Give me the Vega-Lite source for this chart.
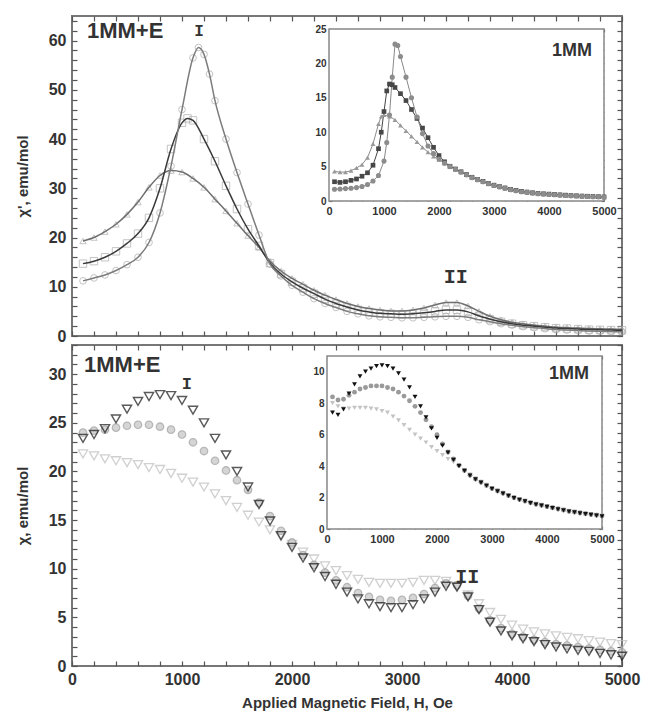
{
"$schema": "https://vega.github.io/schema/vega-lite/v6.json",
"padding": {"left": 14, "top": 11, "right": 5, "bottom": 5},
"background": "white",
"spacing": 9,
"bounds": "flush",
"config": {
  "view": {"stroke": "#777", "strokeWidth": 2},
  "axis": {"grid": false, "domain": false, "zindex": 1, "tickColor": "#555", "tickWidth": 1.2, "labelFont": "Liberation Sans", "labelFontWeight": "bold", "labelColor": "#333", "titleFont": "Liberation Sans", "titleFontWeight": "bold", "titleColor": "#333", "labelFlush": false, "labelOverlap": false, "labelBound": false}
},
"datasets": {
"tmc": [{"H":100,"v":11.2},{"H":200,"v":11.8},{"H":300,"v":12.4},{"H":400,"v":13.3},{"H":500,"v":14.5},{"H":600,"v":16.0},{"H":700,"v":19.0},{"H":800,"v":25.0},{"H":900,"v":34.5},{"H":1000,"v":46.0},{"H":1100,"v":56.5},{"H":1150,"v":58.6},{"H":1200,"v":57.2},{"H":1250,"v":53.2},{"H":1300,"v":47.8},{"H":1400,"v":40.0},{"H":1500,"v":33.2},{"H":1600,"v":26.8},{"H":1700,"v":20.5},{"H":1800,"v":14.6},{"H":1900,"v":12.2},{"H":2000,"v":10.3},{"H":2100,"v":8.9},{"H":2200,"v":7.6},{"H":2300,"v":6.6},{"H":2400,"v":5.8},{"H":2500,"v":5.0},{"H":2600,"v":4.5},{"H":2700,"v":4.1},{"H":2800,"v":3.9},{"H":2900,"v":3.8},{"H":3000,"v":3.7},{"H":3100,"v":3.7},{"H":3200,"v":3.8},{"H":3300,"v":3.9},{"H":3400,"v":4.0},{"H":3500,"v":4.0},{"H":3600,"v":3.8},{"H":3700,"v":3.3},{"H":3800,"v":2.9},{"H":3900,"v":2.5},{"H":4000,"v":2.2},{"H":4100,"v":1.9},{"H":4200,"v":1.7},{"H":4300,"v":1.5},{"H":4400,"v":1.3},{"H":4500,"v":1.2},{"H":4600,"v":1.1},{"H":4700,"v":1.0},{"H":4800,"v":0.95},{"H":4900,"v":0.9},{"H":5000,"v":0.85}],
"tms": [{"H":100,"v":14.7},{"H":200,"v":15.2},{"H":300,"v":16.0},{"H":400,"v":17.2},{"H":500,"v":18.8},{"H":600,"v":20.8},{"H":700,"v":24.0},{"H":800,"v":30.0},{"H":900,"v":38.0},{"H":1000,"v":43.3},{"H":1050,"v":44.2},{"H":1100,"v":43.8},{"H":1200,"v":40.0},{"H":1300,"v":35.5},{"H":1400,"v":30.5},{"H":1500,"v":25.8},{"H":1600,"v":21.7},{"H":1700,"v":18.3},{"H":1800,"v":14.8},{"H":1900,"v":12.6},{"H":2000,"v":11.0},{"H":2100,"v":9.7},{"H":2200,"v":8.6},{"H":2300,"v":7.5},{"H":2400,"v":6.6},{"H":2500,"v":5.9},{"H":2600,"v":5.3},{"H":2700,"v":4.9},{"H":2800,"v":4.6},{"H":2900,"v":4.5},{"H":3000,"v":4.4},{"H":3100,"v":4.5},{"H":3200,"v":4.7},{"H":3300,"v":5.0},{"H":3400,"v":5.3},{"H":3500,"v":5.3},{"H":3600,"v":4.9},{"H":3700,"v":4.1},{"H":3800,"v":3.4},{"H":3900,"v":2.9},{"H":4000,"v":2.5},{"H":4100,"v":2.2},{"H":4200,"v":2.0},{"H":4300,"v":1.8},{"H":4400,"v":1.6},{"H":4500,"v":1.5},{"H":4600,"v":1.4},{"H":4700,"v":1.3},{"H":4800,"v":1.25},{"H":4900,"v":1.2},{"H":5000,"v":1.15}],
"tmt": [{"H":100,"v":19.3},{"H":200,"v":20.0},{"H":300,"v":21.2},{"H":400,"v":22.7},{"H":500,"v":24.7},{"H":600,"v":27.2},{"H":700,"v":30.2},{"H":800,"v":32.6},{"H":900,"v":33.6},{"H":1000,"v":33.3},{"H":1100,"v":32.0},{"H":1200,"v":30.2},{"H":1300,"v":27.8},{"H":1400,"v":25.4},{"H":1500,"v":22.9},{"H":1600,"v":20.4},{"H":1700,"v":18.0},{"H":1800,"v":15.2},{"H":1900,"v":13.2},{"H":2000,"v":11.7},{"H":2100,"v":10.5},{"H":2200,"v":9.3},{"H":2300,"v":8.3},{"H":2400,"v":7.4},{"H":2500,"v":6.6},{"H":2600,"v":6.0},{"H":2700,"v":5.6},{"H":2800,"v":5.3},{"H":2900,"v":5.1},{"H":3000,"v":5.1},{"H":3100,"v":5.3},{"H":3200,"v":5.7},{"H":3300,"v":6.3},{"H":3400,"v":6.8},{"H":3500,"v":6.8},{"H":3600,"v":6.1},{"H":3700,"v":5.0},{"H":3800,"v":4.0},{"H":3900,"v":3.3},{"H":4000,"v":2.8},{"H":4100,"v":2.5},{"H":4200,"v":2.2},{"H":4300,"v":2.0},{"H":4400,"v":1.8},{"H":4500,"v":1.7},{"H":4600,"v":1.6},{"H":4700,"v":1.5},{"H":4800,"v":1.45},{"H":4900,"v":1.4},{"H":5000,"v":1.35}],
"tic": [{"H":100,"v":1.7},{"H":200,"v":1.75},{"H":300,"v":1.8},{"H":400,"v":1.85},{"H":500,"v":1.95},{"H":600,"v":2.1},{"H":700,"v":2.4},{"H":800,"v":2.9},{"H":900,"v":3.7},{"H":1000,"v":5.8},{"H":1050,"v":8.5},{"H":1100,"v":12.5},{"H":1150,"v":18.0},{"H":1200,"v":22.8},{"H":1250,"v":22.6},{"H":1300,"v":21.0},{"H":1400,"v":18.0},{"H":1500,"v":15.0},{"H":1600,"v":12.2},{"H":1700,"v":9.8},{"H":1800,"v":8.0},{"H":1900,"v":6.9},{"H":2000,"v":6.1},{"H":2100,"v":5.5},{"H":2200,"v":5.0},{"H":2300,"v":4.6},{"H":2400,"v":4.2},{"H":2500,"v":3.8},{"H":2600,"v":3.4},{"H":2700,"v":3.1},{"H":2800,"v":2.8},{"H":2900,"v":2.5},{"H":3000,"v":2.25},{"H":3100,"v":2.05},{"H":3200,"v":1.85},{"H":3300,"v":1.65},{"H":3400,"v":1.5},{"H":3500,"v":1.35},{"H":3600,"v":1.25},{"H":3700,"v":1.15},{"H":3800,"v":1.05},{"H":3900,"v":1.0},{"H":4000,"v":0.95},{"H":4100,"v":0.9},{"H":4200,"v":0.85},{"H":4300,"v":0.8},{"H":4400,"v":0.75},{"H":4500,"v":0.72},{"H":4600,"v":0.68},{"H":4700,"v":0.65},{"H":4800,"v":0.62},{"H":4900,"v":0.6},{"H":5000,"v":0.58}],
"tis": [{"H":100,"v":2.8},{"H":200,"v":2.7},{"H":300,"v":2.8},{"H":400,"v":3.0},{"H":500,"v":3.2},{"H":600,"v":3.6},{"H":700,"v":4.1},{"H":800,"v":5.2},{"H":900,"v":7.6},{"H":950,"v":10.0},{"H":1000,"v":13.0},{"H":1050,"v":16.0},{"H":1100,"v":17.0},{"H":1150,"v":16.9},{"H":1200,"v":16.5},{"H":1300,"v":15.6},{"H":1400,"v":14.6},{"H":1500,"v":13.3},{"H":1600,"v":12.0},{"H":1700,"v":10.6},{"H":1800,"v":9.2},{"H":1900,"v":7.8},{"H":2000,"v":6.6},{"H":2100,"v":5.7},{"H":2200,"v":5.05},{"H":2300,"v":4.65},{"H":2400,"v":4.25},{"H":2500,"v":3.85},{"H":2600,"v":3.45},{"H":2700,"v":3.15},{"H":2800,"v":2.85},{"H":2900,"v":2.55},{"H":3000,"v":2.3},{"H":3100,"v":2.1},{"H":3200,"v":1.9},{"H":3300,"v":1.7},{"H":3400,"v":1.55},{"H":3500,"v":1.4},{"H":3600,"v":1.3},{"H":3700,"v":1.2},{"H":3800,"v":1.1},{"H":3900,"v":1.05},{"H":4000,"v":1.0},{"H":4100,"v":0.95},{"H":4200,"v":0.9},{"H":4300,"v":0.85},{"H":4400,"v":0.8},{"H":4500,"v":0.76},{"H":4600,"v":0.72},{"H":4700,"v":0.69},{"H":4800,"v":0.66},{"H":4900,"v":0.63},{"H":5000,"v":0.6}],
"tit": [{"H":100,"v":4.3},{"H":200,"v":4.2},{"H":300,"v":4.2},{"H":400,"v":4.4},{"H":500,"v":4.8},{"H":600,"v":5.3},{"H":700,"v":6.3},{"H":800,"v":8.3},{"H":900,"v":11.2},{"H":950,"v":12.3},{"H":1000,"v":12.5},{"H":1100,"v":12.3},{"H":1200,"v":11.8},{"H":1300,"v":11.0},{"H":1400,"v":10.2},{"H":1500,"v":9.4},{"H":1600,"v":8.6},{"H":1700,"v":7.8},{"H":1800,"v":7.1},{"H":1900,"v":6.5},{"H":2000,"v":6.0},{"H":2100,"v":5.5},{"H":2200,"v":5.0},{"H":2300,"v":4.6},{"H":2400,"v":4.2},{"H":2500,"v":3.8},{"H":2600,"v":3.4},{"H":2700,"v":3.1},{"H":2800,"v":2.8},{"H":2900,"v":2.5},{"H":3000,"v":2.25},{"H":3100,"v":2.05},{"H":3200,"v":1.85},{"H":3300,"v":1.65},{"H":3400,"v":1.5},{"H":3500,"v":1.35},{"H":3600,"v":1.25},{"H":3700,"v":1.15},{"H":3800,"v":1.05},{"H":3900,"v":1.0},{"H":4000,"v":0.95},{"H":4100,"v":0.9},{"H":4200,"v":0.85},{"H":4300,"v":0.8},{"H":4400,"v":0.75},{"H":4500,"v":0.72},{"H":4600,"v":0.68},{"H":4700,"v":0.65},{"H":4800,"v":0.62},{"H":4900,"v":0.6},{"H":5000,"v":0.58}],
"bmk": [{"H":100,"v":23.4},{"H":200,"v":23.8},{"H":300,"v":24.4},{"H":400,"v":25.4},{"H":500,"v":26.4},{"H":600,"v":27.2},{"H":700,"v":27.7},{"H":800,"v":27.9},{"H":900,"v":27.8},{"H":1000,"v":27.3},{"H":1100,"v":26.3},{"H":1200,"v":25.0},{"H":1300,"v":23.4},{"H":1400,"v":21.7},{"H":1500,"v":20.0},{"H":1600,"v":18.4},{"H":1700,"v":16.6},{"H":1800,"v":14.9},{"H":1900,"v":13.4},{"H":2000,"v":12.2},{"H":2100,"v":11.1},{"H":2200,"v":10.1},{"H":2300,"v":9.2},{"H":2400,"v":8.4},{"H":2500,"v":7.6},{"H":2600,"v":6.9},{"H":2700,"v":6.4},{"H":2800,"v":6.1},{"H":2900,"v":6.0},{"H":3000,"v":6.0},{"H":3100,"v":6.3},{"H":3200,"v":6.9},{"H":3300,"v":7.6},{"H":3400,"v":8.2},{"H":3500,"v":8.1},{"H":3600,"v":7.1},{"H":3700,"v":5.8},{"H":3800,"v":4.5},{"H":3900,"v":3.6},{"H":4000,"v":3.1},{"H":4100,"v":2.8},{"H":4200,"v":2.5},{"H":4300,"v":2.2},{"H":4400,"v":1.95},{"H":4500,"v":1.75},{"H":4600,"v":1.6},{"H":4700,"v":1.5},{"H":4800,"v":1.3},{"H":4900,"v":1.15},{"H":5000,"v":1.0}],
"bmc": [{"H":100,"v":24.0},{"H":200,"v":24.2},{"H":300,"v":24.3},{"H":400,"v":24.5},{"H":500,"v":24.7},{"H":600,"v":24.8},{"H":700,"v":24.8},{"H":800,"v":24.6},{"H":900,"v":24.3},{"H":1000,"v":23.8},{"H":1100,"v":23.0},{"H":1200,"v":22.1},{"H":1300,"v":21.1},{"H":1400,"v":20.1},{"H":1500,"v":19.1},{"H":1600,"v":18.1},{"H":1700,"v":16.8},{"H":1800,"v":15.4},{"H":1900,"v":13.9},{"H":2000,"v":12.7},{"H":2100,"v":11.4},{"H":2200,"v":10.4},{"H":2300,"v":9.6},{"H":2400,"v":8.8},{"H":2500,"v":8.1},{"H":2600,"v":7.5},{"H":2700,"v":7.1},{"H":2800,"v":6.8},{"H":2900,"v":6.7},{"H":3000,"v":6.8},{"H":3100,"v":7.0},{"H":3200,"v":7.4},{"H":3300,"v":8.0},{"H":3400,"v":8.5},{"H":3500,"v":8.3},{"H":3600,"v":7.2},{"H":3700,"v":5.9},{"H":3800,"v":4.7},{"H":3900,"v":3.9},{"H":4000,"v":3.3},{"H":4100,"v":3.0},{"H":4200,"v":2.7},{"H":4300,"v":2.45},{"H":4400,"v":2.25},{"H":4500,"v":2.1},{"H":4600,"v":1.95},{"H":4700,"v":1.8},{"H":4800,"v":1.65},{"H":4900,"v":1.5},{"H":5000,"v":1.4}],
"bml": [{"H":100,"v":21.8},{"H":200,"v":21.6},{"H":300,"v":21.3},{"H":400,"v":21.1},{"H":500,"v":20.9},{"H":600,"v":20.7},{"H":700,"v":20.4},{"H":800,"v":20.2},{"H":900,"v":19.8},{"H":1000,"v":19.3},{"H":1100,"v":18.9},{"H":1200,"v":18.4},{"H":1300,"v":17.7},{"H":1400,"v":17.0},{"H":1500,"v":16.3},{"H":1600,"v":15.5},{"H":1700,"v":14.8},{"H":1800,"v":14.0},{"H":1900,"v":13.3},{"H":2000,"v":12.5},{"H":2100,"v":11.7},{"H":2200,"v":11.0},{"H":2300,"v":10.3},{"H":2400,"v":9.8},{"H":2500,"v":9.3},{"H":2600,"v":8.9},{"H":2700,"v":8.6},{"H":2800,"v":8.5},{"H":2900,"v":8.5},{"H":3000,"v":8.5},{"H":3100,"v":8.6},{"H":3200,"v":8.8},{"H":3300,"v":8.8},{"H":3400,"v":8.7},{"H":3500,"v":8.2},{"H":3600,"v":7.3},{"H":3700,"v":6.4},{"H":3800,"v":5.5},{"H":3900,"v":4.8},{"H":4000,"v":4.2},{"H":4100,"v":3.8},{"H":4200,"v":3.5},{"H":4300,"v":3.3},{"H":4400,"v":3.1},{"H":4500,"v":2.95},{"H":4600,"v":2.8},{"H":4700,"v":2.6},{"H":4800,"v":2.45},{"H":4900,"v":2.3},{"H":5000,"v":2.2}],
"bik": [{"H":100,"v":7.4},{"H":200,"v":7.25},{"H":300,"v":7.6},{"H":400,"v":8.6},{"H":500,"v":9.2},{"H":600,"v":9.7},{"H":700,"v":10.0},{"H":800,"v":10.2},{"H":900,"v":10.35},{"H":1000,"v":10.4},{"H":1100,"v":10.35},{"H":1200,"v":10.2},{"H":1300,"v":9.9},{"H":1400,"v":9.5},{"H":1500,"v":9.0},{"H":1600,"v":8.4},{"H":1700,"v":7.8},{"H":1800,"v":7.1},{"H":1900,"v":6.4},{"H":2000,"v":5.8},{"H":2100,"v":5.3},{"H":2200,"v":4.85},{"H":2300,"v":4.4},{"H":2400,"v":4.0},{"H":2500,"v":3.7},{"H":2600,"v":3.4},{"H":2700,"v":3.15},{"H":2800,"v":2.95},{"H":2900,"v":2.75},{"H":3000,"v":2.55},{"H":3100,"v":2.4},{"H":3200,"v":2.25},{"H":3300,"v":2.1},{"H":3400,"v":1.97},{"H":3500,"v":1.85},{"H":3600,"v":1.75},{"H":3700,"v":1.65},{"H":3800,"v":1.55},{"H":3900,"v":1.48},{"H":4000,"v":1.4},{"H":4100,"v":1.33},{"H":4200,"v":1.25},{"H":4300,"v":1.18},{"H":4400,"v":1.1},{"H":4500,"v":1.05},{"H":4600,"v":1.0},{"H":4700,"v":0.95},{"H":4800,"v":0.9},{"H":4900,"v":0.85},{"H":5000,"v":0.8}],
"bic": [{"H":100,"v":8.4},{"H":200,"v":8.2},{"H":300,"v":8.25},{"H":400,"v":8.5},{"H":500,"v":8.7},{"H":600,"v":8.9},{"H":700,"v":9.0},{"H":800,"v":9.1},{"H":900,"v":9.1},{"H":1000,"v":9.1},{"H":1100,"v":9.0},{"H":1200,"v":8.9},{"H":1300,"v":8.7},{"H":1400,"v":8.45},{"H":1500,"v":8.15},{"H":1600,"v":7.8},{"H":1700,"v":7.4},{"H":1800,"v":6.95},{"H":1900,"v":6.5},{"H":2000,"v":6.0},{"H":2100,"v":5.4},{"H":2200,"v":4.9},{"H":2300,"v":4.45},{"H":2400,"v":4.05},{"H":2500,"v":3.72},{"H":2600,"v":3.42},{"H":2700,"v":3.17},{"H":2800,"v":2.97},{"H":2900,"v":2.77},{"H":3000,"v":2.57},{"H":3100,"v":2.42},{"H":3200,"v":2.27},{"H":3300,"v":2.12},{"H":3400,"v":1.99},{"H":3500,"v":1.87},{"H":3600,"v":1.77},{"H":3700,"v":1.67},{"H":3800,"v":1.57},{"H":3900,"v":1.5},{"H":4000,"v":1.42},{"H":4100,"v":1.35},{"H":4200,"v":1.27},{"H":4300,"v":1.2},{"H":4400,"v":1.12},{"H":4500,"v":1.07},{"H":4600,"v":1.02},{"H":4700,"v":0.97},{"H":4800,"v":0.92},{"H":4900,"v":0.87},{"H":5000,"v":0.82}],
"bil": [{"H":100,"v":8.0},{"H":200,"v":7.8},{"H":300,"v":7.65},{"H":400,"v":7.65},{"H":500,"v":7.7},{"H":600,"v":7.7},{"H":700,"v":7.7},{"H":800,"v":7.65},{"H":900,"v":7.6},{"H":1000,"v":7.5},{"H":1100,"v":7.4},{"H":1200,"v":7.15},{"H":1300,"v":6.9},{"H":1400,"v":6.6},{"H":1500,"v":6.3},{"H":1600,"v":6.0},{"H":1700,"v":5.75},{"H":1800,"v":5.5},{"H":1900,"v":5.2},{"H":2000,"v":4.95},{"H":2100,"v":4.7},{"H":2200,"v":4.45},{"H":2300,"v":4.25},{"H":2400,"v":4.05},{"H":2500,"v":3.75},{"H":2600,"v":3.45},{"H":2700,"v":3.2},{"H":2800,"v":3.0},{"H":2900,"v":2.8},{"H":3000,"v":2.6},{"H":3100,"v":2.45},{"H":3200,"v":2.3},{"H":3300,"v":2.15},{"H":3400,"v":2.02},{"H":3500,"v":1.9},{"H":3600,"v":1.8},{"H":3700,"v":1.7},{"H":3800,"v":1.6},{"H":3900,"v":1.53},{"H":4000,"v":1.45},{"H":4100,"v":1.38},{"H":4200,"v":1.3},{"H":4300,"v":1.23},{"H":4400,"v":1.15},{"H":4500,"v":1.1},{"H":4600,"v":1.05},{"H":4700,"v":1.0},{"H":4800,"v":0.95},{"H":4900,"v":0.9},{"H":5000,"v":0.85}]
},
"vconcat": [
{
 "width": 550, "height": 320,
 "layer": [
  {
   "layer": [
    {"data": {"name": "tmt"}, "mark": {"type": "point", "shape": "triangle-up", "filled": false, "color": "#ababab", "size": 40, "strokeWidth": 1},
     "encoding": {
      "x": {"field": "H", "type": "quantitative", "scale": {"domain": [0, 5000], "nice": false, "zero": false},
            "axis": {"orient": "bottom", "values": [0,200,400,600,800,1000,1200,1400,1600,1800,2000,2200,2400,2600,2800,3000,3200,3400,3600,3800,4000,4200,4400,4600,4800,5000], "labels": false, "tickSize": -5, "title": null}},
      "y": {"field": "v", "type": "quantitative", "scale": {"domain": [0, 65], "nice": false},
            "axis": {"orient": "left", "values": [0,2,4,6,8,10,12,14,16,18,20,22,24,26,28,30,32,34,36,38,40,42,44,46,48,50,52,54,56,58,60,62,64], "labelExpr": "datum.value % 10 === 0 ? datum.label : ''", "labelFontSize": 16, "labelPadding": 11, "tickSize": -5, "title": "χ', emu/mol", "titleFontSize": 15, "titlePadding": 18}}
     }},
    {"data": {"name": "tms"}, "mark": {"type": "point", "shape": "square", "filled": false, "color": "#ababab", "size": 55, "strokeWidth": 1},
     "encoding": {"x": {"field": "H", "type": "quantitative", "axis": null}, "y": {"field": "v", "type": "quantitative", "axis": null}}},
    {"data": {"name": "tmc"}, "mark": {"type": "point", "shape": "circle", "filled": false, "color": "#ababab", "size": 45, "strokeWidth": 1},
     "encoding": {"x": {"field": "H", "type": "quantitative", "axis": null}, "y": {"field": "v", "type": "quantitative", "axis": null}}},
    {"data": {"name": "tmt"}, "mark": {"type": "line", "color": "#6e6e6e", "strokeWidth": 1.5, "interpolate": "monotone"},
     "encoding": {"x": {"field": "H", "type": "quantitative", "axis": null}, "y": {"field": "v", "type": "quantitative", "axis": null}}},
    {"data": {"name": "tms"}, "mark": {"type": "line", "color": "#3a3a3a", "strokeWidth": 1.5, "interpolate": "monotone"},
     "encoding": {"x": {"field": "H", "type": "quantitative", "axis": null}, "y": {"field": "v", "type": "quantitative", "axis": null}}},
    {"data": {"name": "tmc"}, "mark": {"type": "line", "color": "#7c7c7c", "strokeWidth": 1.5, "interpolate": "monotone"},
     "encoding": {"x": {"field": "H", "type": "quantitative", "axis": null}, "y": {"field": "v", "type": "quantitative", "axis": null}}},
    {"data": {"values": [{}]}, "mark": {"type": "text", "text": "1MM+E", "font": "Liberation Sans", "fontWeight": "bold", "fontSize": 22, "align": "left", "baseline": "middle", "color": "#333"},
     "encoding": {
      "x": {"datum": 136, "type": "quantitative", "axis": {"orient": "top", "values": [0,200,400,600,800,1000,1200,1400,1600,1800,2000,2200,2400,2600,2800,3000,3200,3400,3600,3800,4000,4200,4400,4600,4800,5000], "labels": false, "tickSize": -5, "title": null}},
      "y": {"datum": 62.0, "type": "quantitative", "axis": {"orient": "right", "values": [0,2,4,6,8,10,12,14,16,18,20,22,24,26,28,30,32,34,36,38,40,42,44,46,48,50,52,54,56,58,60,62,64], "labels": false, "tickSize": -5, "title": null}}
     }},
    {"data": {"values": [{}]}, "mark": {"type": "text", "text": "I", "font": "Liberation Mono", "fontWeight": "bold", "fontSize": 16, "align": "center", "baseline": "middle", "color": "#333"},
     "encoding": {"x": {"datum": 1155, "type": "quantitative", "axis": null}, "y": {"datum": 62.0, "type": "quantitative", "axis": null}}},
    {"data": {"values": [{}]}, "mark": {"type": "text", "text": "II", "font": "Liberation Mono", "fontWeight": "bold", "fontSize": 20, "align": "center", "baseline": "middle", "color": "#333"},
     "encoding": {"x": {"datum": 3488, "type": "quantitative", "axis": null}, "y": {"datum": 12.0, "type": "quantitative", "axis": null}}}
   ],
   "resolve": {"axis": {"x": "independent", "y": "independent"}}
  },
  {
   "layer": [
    {"data": {"values": [{}]}, "mark": {"type": "rect", "fill": "white", "stroke": "#888", "strokeWidth": 1.5},
     "encoding": {
      "x": {"datum": 0, "type": "quantitative", "scale": {"domain": [0, 5000], "range": [257, 532], "nice": false, "zero": false},
            "axis": {"orient": "bottom", "offset": -135, "values": [0,200,400,600,800,1000,1200,1400,1600,1800,2000,2200,2400,2600,2800,3000,3200,3400,3600,3800,4000,4200,4400,4600,4800,5000], "format": "d", "labelExpr": "datum.value % 1000 === 0 ? datum.label : ''", "labelFontSize": 11, "labelPadding": 7, "tickSize": -3, "title": null}},
      "x2": {"datum": 5000},
      "y": {"datum": 0, "type": "quantitative", "scale": {"domain": [0, 25], "range": [185, 13], "nice": false},
            "axis": {"orient": "left", "offset": -257, "values": [0,1,2,3,4,5,6,7,8,9,10,11,12,13,14,15,16,17,18,19,20,21,22,23,24,25], "format": "d", "labelExpr": "datum.value % 5 === 0 ? datum.label : ''", "labelFontSize": 10, "labelPadding": 6, "tickSize": -3, "title": null}},
      "y2": {"datum": 25}
     }},
    {"data": {"name": "tit"}, "mark": {"type": "line", "color": "#8c8c8c", "strokeWidth": 1},
     "encoding": {"x": {"field": "H", "type": "quantitative", "axis": null}, "y": {"field": "v", "type": "quantitative", "axis": null}}},
    {"data": {"name": "tis"}, "mark": {"type": "line", "color": "#444", "strokeWidth": 1},
     "encoding": {"x": {"field": "H", "type": "quantitative", "axis": null}, "y": {"field": "v", "type": "quantitative", "axis": null}}},
    {"data": {"name": "tic"}, "mark": {"type": "line", "color": "#888", "strokeWidth": 1},
     "encoding": {"x": {"field": "H", "type": "quantitative", "axis": null}, "y": {"field": "v", "type": "quantitative", "axis": null}}},
    {"data": {"name": "tit"}, "mark": {"type": "point", "shape": "triangle-up", "filled": true, "color": "#999", "size": 24, "opacity": 1},
     "encoding": {"x": {"field": "H", "type": "quantitative", "axis": null}, "y": {"field": "v", "type": "quantitative", "axis": null}}},
    {"data": {"name": "tis"}, "mark": {"type": "point", "shape": "square", "filled": true, "color": "#474747", "size": 22, "opacity": 1},
     "encoding": {"x": {"field": "H", "type": "quantitative", "axis": null}, "y": {"field": "v", "type": "quantitative", "axis": null}}},
    {"data": {"name": "tic"}, "mark": {"type": "point", "shape": "circle", "filled": true, "color": "#8c8c8c", "size": 26, "opacity": 1},
     "encoding": {"x": {"field": "H", "type": "quantitative", "axis": null}, "y": {"field": "v", "type": "quantitative", "axis": null}}},
    {"data": {"values": [{}]}, "mark": {"type": "text", "text": "1MM", "font": "Liberation Sans", "fontWeight": "bold", "fontSize": 18, "align": "center", "baseline": "middle", "color": "#333"},
     "encoding": {
      "x": {"datum": 4420, "type": "quantitative", "axis": {"orient": "top", "offset": -13, "values": [0,200,400,600,800,1000,1200,1400,1600,1800,2000,2200,2400,2600,2800,3000,3200,3400,3600,3800,4000,4200,4400,4600,4800,5000], "labels": false, "tickSize": -3, "title": null}},
      "y": {"datum": 21.8, "type": "quantitative", "axis": {"orient": "right", "offset": -18, "values": [0,1,2,3,4,5,6,7,8,9,10,11,12,13,14,15,16,17,18,19,20,21,22,23,24,25], "labels": false, "tickSize": -3, "title": null}}
     }}
   ],
   "resolve": {"axis": {"x": "independent", "y": "independent"}}
  }
 ],
 "resolve": {"scale": {"x": "independent", "y": "independent"}}
},
{
 "width": 550, "height": 321,
 "layer": [
  {
   "layer": [
    {"data": {"name": "bml"}, "mark": {"type": "point", "shape": "triangle-down", "filled": false, "color": "#bdbdbd", "size": 85, "strokeWidth": 1.3},
     "encoding": {
      "x": {"field": "H", "type": "quantitative", "scale": {"domain": [0, 5000], "nice": false, "zero": false},
            "axis": {"orient": "bottom", "values": [0,200,400,600,800,1000,1200,1400,1600,1800,2000,2200,2400,2600,2800,3000,3200,3400,3600,3800,4000,4200,4400,4600,4800,5000], "format": "d", "labelExpr": "datum.value % 1000 === 0 ? datum.label : ''", "labelFontSize": 16, "labelPadding": 10, "tickSize": -5, "title": "Applied Magnetic Field, H, Oe", "titleFontSize": 15, "titlePadding": 8}},
      "y": {"field": "v", "type": "quantitative", "scale": {"domain": [0, 33], "nice": false},
            "axis": {"orient": "left", "values": [0,1,2,3,4,5,6,7,8,9,10,11,12,13,14,15,16,17,18,19,20,21,22,23,24,25,26,27,28,29,30,31,32,33], "labelExpr": "datum.value % 5 === 0 ? datum.label : ''", "labelFontSize": 16, "labelPadding": 11, "tickSize": -5, "title": "χ, emu/mol", "titleFontSize": 15, "titlePadding": 18}}
     }},
    {"data": {"name": "bmc"}, "mark": {"type": "point", "shape": "circle", "filled": true, "fill": "#c4c4c4", "stroke": "#999", "size": 55, "strokeWidth": 1.3},
     "encoding": {"x": {"field": "H", "type": "quantitative", "axis": null}, "y": {"field": "v", "type": "quantitative", "axis": null}}},
    {"data": {"name": "bmk"}, "mark": {"type": "point", "shape": "triangle-down", "filled": false, "color": "#151515", "size": 85, "strokeWidth": 1.4},
     "encoding": {"x": {"field": "H", "type": "quantitative", "axis": null}, "y": {"field": "v", "type": "quantitative", "axis": null}}},
    {"data": {"values": [{}]}, "mark": {"type": "text", "text": "1MM+E", "font": "Liberation Sans", "fontWeight": "bold", "fontSize": 22, "align": "left", "baseline": "middle", "color": "#333"},
     "encoding": {
      "x": {"datum": 109, "type": "quantitative", "axis": {"orient": "top", "values": [0,200,400,600,800,1000,1200,1400,1600,1800,2000,2200,2400,2600,2800,3000,3200,3400,3600,3800,4000,4200,4400,4600,4800,5000], "labels": false, "tickSize": -5, "title": null}},
      "y": {"datum": 30.9, "type": "quantitative", "axis": {"orient": "right", "values": [0,1,2,3,4,5,6,7,8,9,10,11,12,13,14,15,16,17,18,19,20,21,22,23,24,25,26,27,28,29,30,31,32,33], "labels": false, "tickSize": -5, "title": null}}
     }},
    {"data": {"values": [{}]}, "mark": {"type": "text", "text": "I", "font": "Liberation Mono", "fontWeight": "bold", "fontSize": 17, "align": "center", "baseline": "middle", "color": "#333"},
     "encoding": {"x": {"datum": 1045, "type": "quantitative", "axis": null}, "y": {"datum": 29.0, "type": "quantitative", "axis": null}}},
    {"data": {"values": [{}]}, "mark": {"type": "text", "text": "II", "font": "Liberation Mono", "fontWeight": "bold", "fontSize": 20, "align": "center", "baseline": "middle", "color": "#333"},
     "encoding": {"x": {"datum": 3594, "type": "quantitative", "axis": null}, "y": {"datum": 9.2, "type": "quantitative", "axis": null}}}
   ],
   "resolve": {"axis": {"x": "independent", "y": "independent"}}
  },
  {
   "layer": [
    {"data": {"values": [{}]}, "mark": {"type": "rect", "fill": "white", "stroke": "#888", "strokeWidth": 1.5},
     "encoding": {
      "x": {"datum": 0, "type": "quantitative", "scale": {"domain": [0, 5000], "range": [255, 530], "nice": false, "zero": false},
            "axis": {"orient": "bottom", "offset": -137, "values": [0,200,400,600,800,1000,1200,1400,1600,1800,2000,2200,2400,2600,2800,3000,3200,3400,3600,3800,4000,4200,4400,4600,4800,5000], "format": "d", "labelExpr": "datum.value % 1000 === 0 ? datum.label : ''", "labelFontSize": 11, "labelPadding": 7, "tickSize": -3, "title": null}},
      "x2": {"datum": 5000},
      "y": {"datum": 0, "type": "quantitative", "scale": {"domain": [0, 11], "range": [184, 11], "nice": false},
            "axis": {"orient": "left", "offset": -255, "values": [0,0.5,1,1.5,2,2.5,3,3.5,4,4.5,5,5.5,6,6.5,7,7.5,8,8.5,9,9.5,10,10.5,11], "format": "d", "labelExpr": "datum.value % 2 === 0 ? datum.label : ''", "labelFontSize": 10, "labelPadding": 6, "tickSize": -3, "title": null}},
      "y2": {"datum": 11}
     }},
    {"data": {"name": "bil"}, "mark": {"type": "point", "shape": "triangle-down", "filled": true, "color": "#c4c4c4", "size": 24, "opacity": 1},
     "encoding": {"x": {"field": "H", "type": "quantitative", "axis": null}, "y": {"field": "v", "type": "quantitative", "axis": null}}},
    {"data": {"name": "bic"}, "mark": {"type": "point", "shape": "circle", "filled": true, "color": "#9a9a9a", "size": 24, "opacity": 1},
     "encoding": {"x": {"field": "H", "type": "quantitative", "axis": null}, "y": {"field": "v", "type": "quantitative", "axis": null}}},
    {"data": {"name": "bik"}, "mark": {"type": "point", "shape": "triangle-down", "filled": true, "color": "#111", "size": 24, "opacity": 1},
     "encoding": {"x": {"field": "H", "type": "quantitative", "axis": null}, "y": {"field": "v", "type": "quantitative", "axis": null}}},
    {"data": {"values": [{}]}, "mark": {"type": "text", "text": "1MM", "font": "Liberation Sans", "fontWeight": "bold", "fontSize": 18, "align": "center", "baseline": "middle", "color": "#333"},
     "encoding": {
      "x": {"datum": 4400, "type": "quantitative", "axis": {"orient": "top", "offset": -11, "values": [0,200,400,600,800,1000,1200,1400,1600,1800,2000,2200,2400,2600,2800,3000,3200,3400,3600,3800,4000,4200,4400,4600,4800,5000], "labels": false, "tickSize": -3, "title": null}},
      "y": {"datum": 9.85, "type": "quantitative", "axis": {"orient": "right", "offset": -20, "values": [0,0.5,1,1.5,2,2.5,3,3.5,4,4.5,5,5.5,6,6.5,7,7.5,8,8.5,9,9.5,10,10.5,11], "labels": false, "tickSize": -3, "title": null}}
     }}
   ],
   "resolve": {"axis": {"x": "independent", "y": "independent"}}
  }
 ],
 "resolve": {"scale": {"x": "independent", "y": "independent"}}
}
]
}
